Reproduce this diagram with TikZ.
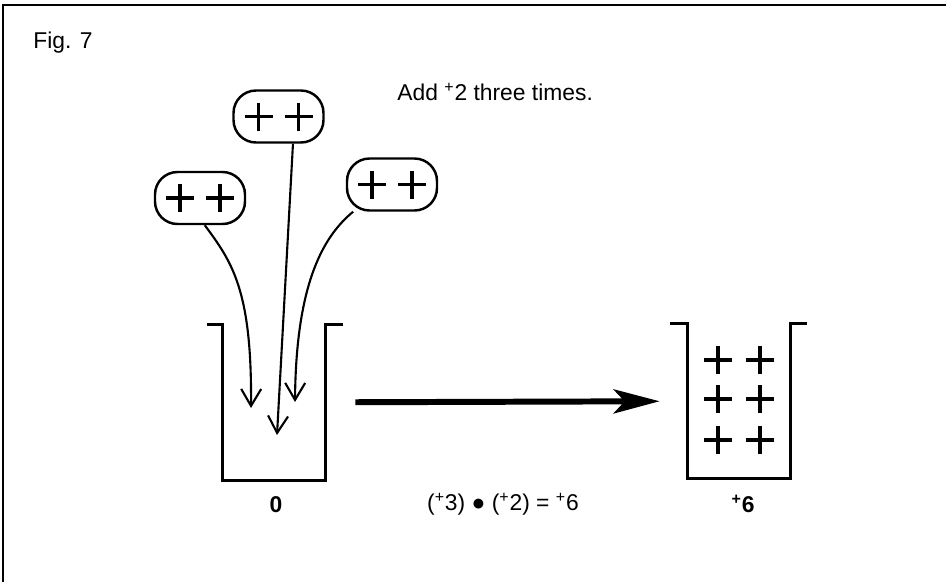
\documentclass[tikz,border=0pt]{standalone}
\usepackage{fontspec}
\setmainfont{Liberation Sans}
\usetikzlibrary{arrows.meta,positioning,calc}

\tikzset{
  plusmark/.pic={\draw[line width=1.8pt] (-14,0) -- (14,0) (0,-14) -- (0,14);}
}

\begin{document}
\begin{tikzpicture}[x=0.02cm, y=-0.02cm,
  pill/.style={draw, line width=1.4pt, rounded corners=0.45cm, minimum width=1.8cm,
               minimum height=1.04cm, inner sep=0pt},
  bucket/.style={minimum width=2.04cm, minimum height=3.1cm, inner sep=0pt},
  wall/.style={line width=1.8pt},
  drop/.style={-{Straight Barb[length=3.4mm, width=4mm]}, line width=1.2pt},
  bigarrow/.style={-{Stealth[length=9.2mm, width=4.8mm, inset=2.2mm]}, line width=3.4pt,
                   shorten <=0.6cm, shorten >=0.56cm},
  txt/.style={font=\fontsize{13}{15.6}\selectfont, inner sep=0pt},
  sum/.style={font=\fontsize{13}{15.6}\selectfont\bfseries, inner sep=0pt}
]
  \useasboundingbox (0,0) rectangle (946,582);
  % Frame
  \draw[line width=1.2pt] (946,5) -- (3,5) -- (3,582);

  % Nodes
  \node[txt, anchor=base west] (title) at (33,48) {Fig. 7};
  \node[txt, anchor=base west] (task) at (397,100) {Add \textsuperscript{+}2 three times.};

  \node[pill] (lp) at (200,198) {};
  \node[pill] (mp) at (278.5,116.5) {};
  \node[pill] (rp) at (392,184.5) {};

  \node[bucket] (zero) at (274,402.5) {};
  \node[bucket] (six) at (739,401) {};

  \coordinate (tipl) at (251,408);
  \coordinate (tipm) at (277,435);
  \coordinate (tipr) at (295,402);

  \node[sum, anchor=base] (zerolbl) at (276,512) {0};
  \node[txt, anchor=base] (rule) at (503,510)
    {(\textsuperscript{+}3) ● (\textsuperscript{+}2) = \textsuperscript{+}6};
  \node[sum, anchor=base] (sixlbl) at (743,512) {\textsuperscript{+}6};

  % Pluses
  \foreach \pp in {lp,mp,rp}
    \path (\pp) ++(-20,0) pic{plusmark} ++(40,0) pic{plusmark};
  \foreach \dy in {-41,-2,39}
    \path (six) ++(-21,\dy) pic{plusmark} ++(42,0) pic{plusmark};

  % Buckets
  \draw[wall] ($(zero.north west)+(-16,0)$) -- (zero.north west) -- (zero.south west)
    -- (zero.south east) -- (zero.north east) -- ++(18,0);
  \draw[wall] ($(six.north west)+(-18,0)$) -- (six.north west) -- (six.south west)
    -- (six.south east) -- (six.north east) -- ++(17,0);

  % Arrows
  \draw[drop] (lp.-80) .. controls (232,262) and (252,290) .. (tipl);
  \draw[drop] (mp.-62) -- (tipm);
  \draw[drop] (rp.215) .. controls (325,235) and (296,280) .. (tipr);
  \draw[bigarrow] (zero) -- (six);
\end{tikzpicture}
\end{document}
